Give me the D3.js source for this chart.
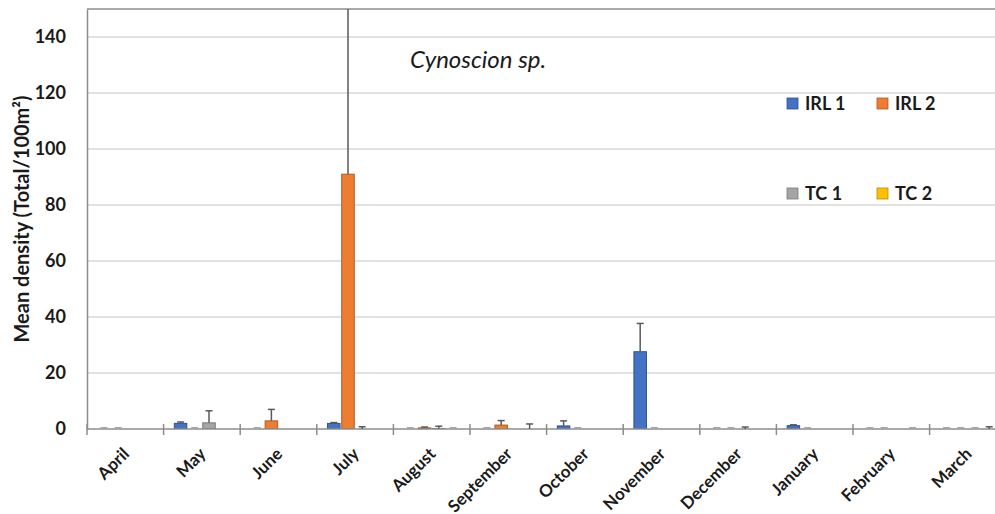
<!DOCTYPE html>
<html lang="en">
<head>
<meta charset="UTF-8">
<title>Cynoscion sp.</title>
<script src="https://cdn.jsdelivr.net/npm/d3@7/dist/d3.min.js"></script>
<style>
  body { margin: 0; background: #fff; }
  text { font-family: Lato, "Open Sans", sans-serif; fill: #1a1a1a; }
</style>
</head>
<body>
<script>
// data (null = no bar / no error bar)
var months = ["April", "May", "June", "July", "August", "September", "October",
              "November", "December", "January", "February", "March"];
var seriesNames = ["IRL 1", "IRL 2", "TC 1", "TC 2"];
var colors = ["#4472C4", "#ED7D31", "#A5A5A5", "#FFC000"];
var strokes = ["#2F528F", "#AE5A21", "#7A7A7A", "#BC8C00"];

var irl1 = [0, 2.0, 0, 2.0, 0, 0, 1.1, 27.6, 0, 1.2, 0, 0];
var irl1Err = [0, 0.5, 0, 0.3, 0, 0, 1.8, 10.1, 0, 0.3, 0, 0];
var irl2 = [0, 0, 2.9, 91, 0.4, 1.4, 0, 0, 0, 0, 0, 0];
var irl2Err = [0, 0, 4.1, 70, 0.3, 1.6, 0, 0, 0, 0, 0, 0];
var tc1 = [null, 2.2, null, 0, 0.2, null, null, null, 0, null, null, 0];
var tc1Err = [null, 4.3, null, 0.8, 0.8, null, null, null, 0.7, null, null, 0];
var tc2 = [null, null, null, null, 0, 0, null, null, null, null, 0, 0];
var tc2Err = [null, null, null, null, 0, 1.8, null, null, null, null, 0, 0.8];

var yTicks = [0, 20, 40, 60, 80, 100, 120, 140];

var values = [irl1, irl2, tc1, tc2];
var errors = [irl1Err, irl2Err, tc1Err, tc2Err];

var width = 995, height = 514;
var plotLeft = 87, plotTop = 9, plotBottom = 429;
var catStep = 76.6;

var svg = d3.select("body").append("svg")
    .attr("width", width)
    .attr("height", height);

var x0 = d3.scaleBand()
    .domain(months)
    .range([plotLeft, plotLeft + catStep * months.length])
    .paddingInner(0.28)
    .paddingOuter(0.14);

var x1 = d3.scaleBand()
    .domain(seriesNames)
    .range([0, x0.bandwidth()])
    .paddingInner(0.12);

var y = d3.scaleLinear()
    .domain([0, 150])
    .range([plotBottom, plotTop]);

// gridlines
svg.append("g")
    .selectAll("line")
    .data(yTicks.slice(1))
    .enter().append("line")
    .attr("x1", plotLeft).attr("x2", width)
    .attr("y1", function(d){ return y(d); })
    .attr("y2", function(d){ return y(d); })
    .attr("stroke", "#d9d9d9")
    .attr("stroke-width", 1.5);

// top border
svg.append("line")
    .attr("x1", plotLeft).attr("x2", width)
    .attr("y1", y(150)).attr("y2", y(150))
    .attr("stroke", "#8c8c8c").attr("stroke-width", 1.5);

// y axis
var yAxis = svg.append("g")
    .attr("transform", "translate(" + plotLeft + ",0)")
    .call(d3.axisLeft(y).tickValues(yTicks).tickSize(0).tickPadding(21));
yAxis.select(".domain").attr("stroke", "#8c8c8c").attr("stroke-width", 1.5);
yAxis.selectAll("text")
    .style("font-size", "18px")
    .style("font-weight", "bold")
    .style("font-family", "Lato, sans-serif")
    .attr("fill", "#1a1a1a");

// clip for bars and error bars
svg.append("clipPath").attr("id", "plot")
    .append("rect")
    .attr("x", plotLeft).attr("y", plotTop)
    .attr("width", width - plotLeft).attr("height", plotBottom - plotTop);

// bars
var groups = svg.append("g").attr("clip-path", "url(#plot)")
    .selectAll("g")
    .data(months)
    .enter().append("g")
    .attr("transform", function(d){ return "translate(" + x0(d) + ",0)"; });

groups.each(function(m, mi){
    var g = d3.select(this);
    seriesNames.forEach(function(s, si){
        var v = values[si][mi];
        if (v === null) return;
        if (v > 0) {
            g.append("rect")
                .attr("x", x1(s))
                .attr("y", y(v))
                .attr("width", x1.bandwidth())
                .attr("height", y(0) - y(v))
                .attr("fill", colors[si])
                .attr("stroke", strokes[si])
                .attr("stroke-width", 1);
        }
    });
});

// x axis line and ticks
svg.append("line")
    .attr("x1", plotLeft).attr("x2", width)
    .attr("y1", y(0)).attr("y2", y(0))
    .attr("stroke", "#8c8c8c").attr("stroke-width", 1.5);

var bounds = d3.range(months.length + 1).map(function(i){ return plotLeft + i * catStep; });
svg.append("g")
    .selectAll("line")
    .data(bounds)
    .enter().append("line")
    .attr("x1", function(d){ return d; })
    .attr("x2", function(d){ return d; })
    .attr("y1", y(0) - 5).attr("y2", y(0) + 6)
    .attr("stroke", "#8c8c8c").attr("stroke-width", 1.5);

// error bars
var errG = svg.append("g").attr("clip-path", "url(#plot)");
months.forEach(function(m, mi){
    seriesNames.forEach(function(s, si){
        var v = values[si][mi], e = errors[si][mi];
        if (v === null || e === null) return;
        var cx = x0(m) + x1(s) + x1.bandwidth() / 2;
        var yt = y(v + e);
        if (e > 0) {
            errG.append("line")
                .attr("x1", cx).attr("x2", cx)
                .attr("y1", y(v)).attr("y2", yt)
                .attr("stroke", "#595959").attr("stroke-width", 1.5);
        }
        errG.append("line")
            .attr("x1", cx - 3.5).attr("x2", cx + 3.5)
            .attr("y1", yt - (e > 0 ? 0 : 1)).attr("y2", yt - (e > 0 ? 0 : 1))
            .attr("stroke", e > 0 ? "#595959" : "#a6a6a6")
            .attr("stroke-width", e > 0 ? 1.5 : 2);
    });
});

// x labels
svg.append("g")
    .selectAll("text")
    .data(months)
    .enter().append("text")
    .attr("transform", function(d){
        var cx = x0(d) + x0.bandwidth() / 2;
        return "translate(" + (cx + 5) + "," + 455 + ") rotate(-45)";
    })
    .attr("text-anchor", "end")
    .style("font-size", "17px")
    .style("font-weight", "bold")
    .text(function(d){ return d; });

// y title
svg.append("text")
    .attr("transform", "translate(29," + 219 + ") rotate(-90)")
    .attr("text-anchor", "middle")
    .style("font-size", "20px")
    .style("font-weight", "bold")
    .text("Mean density (Total/100m²)");

// chart title
svg.append("text")
    .attr("x", 410).attr("y", 68)
    .style("font-size", "24px")
    .style("font-style", "italic")
    .text("Cynoscion sp.");

// legend
var legendPos = [[787, 98], [877, 98], [787, 188], [877, 188]];
var legend = svg.append("g")
    .selectAll("g")
    .data(seriesNames)
    .enter().append("g")
    .attr("transform", function(d, i){ return "translate(" + legendPos[i][0] + "," + legendPos[i][1] + ")"; });
legend.append("rect")
    .attr("width", 11).attr("height", 11)
    .attr("fill", function(d, i){ return colors[i]; })
    .attr("stroke", function(d, i){ return strokes[i]; })
    .attr("stroke-width", 0.8);
legend.append("text")
    .attr("x", 18).attr("y", 11.5)
    .style("font-size", "18px")
    .style("font-weight", "bold")
    .text(function(d){ return d; });
</script>
</body>
</html>
